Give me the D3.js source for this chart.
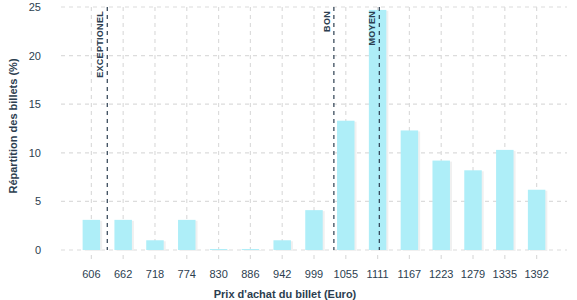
<!DOCTYPE html>
<html>
<head>
<meta charset="utf-8">
<script src="https://cdn.jsdelivr.net/npm/d3@7"></script>
<style>
  body { margin: 0; background: #fff; }
  text { font-family: "Liberation Sans", Arial, sans-serif; fill: #2c3e50; }
</style>
</head>
<body>
<div id="chart"></div>
<script>
let prices = ["606", "662", "718", "774", "830", "886", "942", "999",
  "1055", "1111", "1167", "1223", "1279", "1335", "1392"];
let shares = [3.1, 3.1, 1.0, 3.1, 0.1, 0.1, 1.0, 4.1,
  13.3, 24.7, 12.3, 9.2, 8.2, 10.3, 6.2];
let yTicks = [0, 5, 10, 15, 20, 25];
let markerNames = ["EXCEPTIONEL", "BON", "MOYEN"];
let markerPrices = [634, 1034, 1114];

let width = 577, height = 300;
let margin = {top: 7, right: 10, bottom: 50, left: 61};

let svg = d3.select("#chart").append("svg")
    .attr("width", width)
    .attr("height", height);

let defs = svg.append("defs");

// light grey offset shadow under bars
let filter = defs.append("filter")
    .attr("id", "bar-shadow")
    .attr("x", "-20%").attr("y", "-20%")
    .attr("width", "150%").attr("height", "150%");
filter.append("feOffset")
    .attr("in", "SourceAlpha")
    .attr("dx", 1.5)
    .attr("dy", 1)
    .attr("result", "off");
filter.append("feColorMatrix")
    .attr("in", "off")
    .attr("type", "matrix")
    .attr("values", "0 0 0 0 0.87  0 0 0 0 0.87  0 0 0 0 0.87  0 0 0 1 0")
    .attr("result", "grey");
let merge = filter.append("feMerge");
merge.append("feMergeNode").attr("in", "grey");
merge.append("feMergeNode").attr("in", "SourceGraphic");

let x = d3.scaleBand()
    .domain(prices)
    .range([margin.left, width - margin.right])
    .paddingInner(0.45)
    .paddingOuter(0.68);

let y = d3.scaleLinear()
    .domain([0, 25])
    .range([height - margin.bottom, margin.top]);

// continuous price -> pixel, through the band centres
let centres = prices.map(p => x(p) + x.bandwidth() / 2);
let priceX = d3.scaleLinear()
    .domain(prices.map(Number))
    .range(centres);

// grid
svg.append("g")
  .selectAll("line")
  .data(yTicks)
  .enter()
  .append("line")
    .attr("x1", margin.left)
    .attr("x2", width - margin.right)
    .attr("y1", d => y(d))
    .attr("y2", d => y(d))
    .attr("stroke", "#dcdcdc")
    .attr("stroke-width", 1.2)
    .attr("stroke-dasharray", "4,4");

svg.append("g")
  .selectAll("line")
  .data(prices)
  .enter()
  .append("line")
    .attr("x1", d => x(d) + x.bandwidth() / 2)
    .attr("x2", d => x(d) + x.bandwidth() / 2)
    .attr("y1", margin.top)
    .attr("y2", height - margin.bottom + 13)
    .attr("stroke", "#dcdcdc")
    .attr("stroke-width", 1.2)
    .attr("stroke-dasharray", "4,4");

// bars
svg.append("g")
  .selectAll("rect")
  .data(shares)
  .enter()
  .append("rect")
    .attr("x", (d, i) => x(prices[i]))
    .attr("y", d => y(d))
    .attr("width", x.bandwidth())
    .attr("height", d => y(0) - y(d))
    .attr("fill", "#aeeef8")
    .style("filter", "url(#bar-shadow)");

// category markers
let markers = svg.append("g")
  .selectAll("g")
  .data(markerNames)
  .enter()
  .append("g");

markers.append("line")
    .attr("x1", (d, i) => priceX(markerPrices[i]))
    .attr("x2", (d, i) => priceX(markerPrices[i]))
    .attr("y1", y(25))
    .attr("y2", y(0))
    .attr("stroke", "#2c3e50")
    .attr("stroke-width", 1.2)
    .attr("stroke-dasharray", "4,4");

markers.append("text")
    .attr("transform", (d, i) =>
        "translate(" + (priceX(markerPrices[i]) - 4) + "," + (y(25) + 4) + ") rotate(-90)")
    .attr("text-anchor", "end")
    .attr("font-size", 9)
    .attr("font-weight", "bold")
    .attr("letter-spacing", 0.3)
    .text(d => d);

// y tick labels
svg.append("g")
  .selectAll("text")
  .data(yTicks)
  .enter()
  .append("text")
    .attr("x", 41)
    .attr("y", d => y(d) + 4)
    .attr("text-anchor", "end")
    .attr("font-size", 11)
    .text(d => d);

// x tick labels
svg.append("g")
  .selectAll("text")
  .data(prices)
  .enter()
  .append("text")
    .attr("x", d => x(d) + x.bandwidth() / 2)
    .attr("y", 278)
    .attr("text-anchor", "middle")
    .attr("font-size", 11)
    .text(d => d);

// axis titles
svg.append("text")
    .attr("x", 285)
    .attr("y", 298)
    .attr("text-anchor", "middle")
    .attr("font-size", 11)
    .attr("font-weight", "bold")
    .text("Prix d'achat du billet (Euro)");

svg.append("text")
    .attr("transform", "translate(17," + 126 + ") rotate(-90)")
    .attr("text-anchor", "middle")
    .attr("font-size", 11)
    .attr("font-weight", "bold")
    .text("Répartition des billets (%)");
</script>
</body>
</html>
